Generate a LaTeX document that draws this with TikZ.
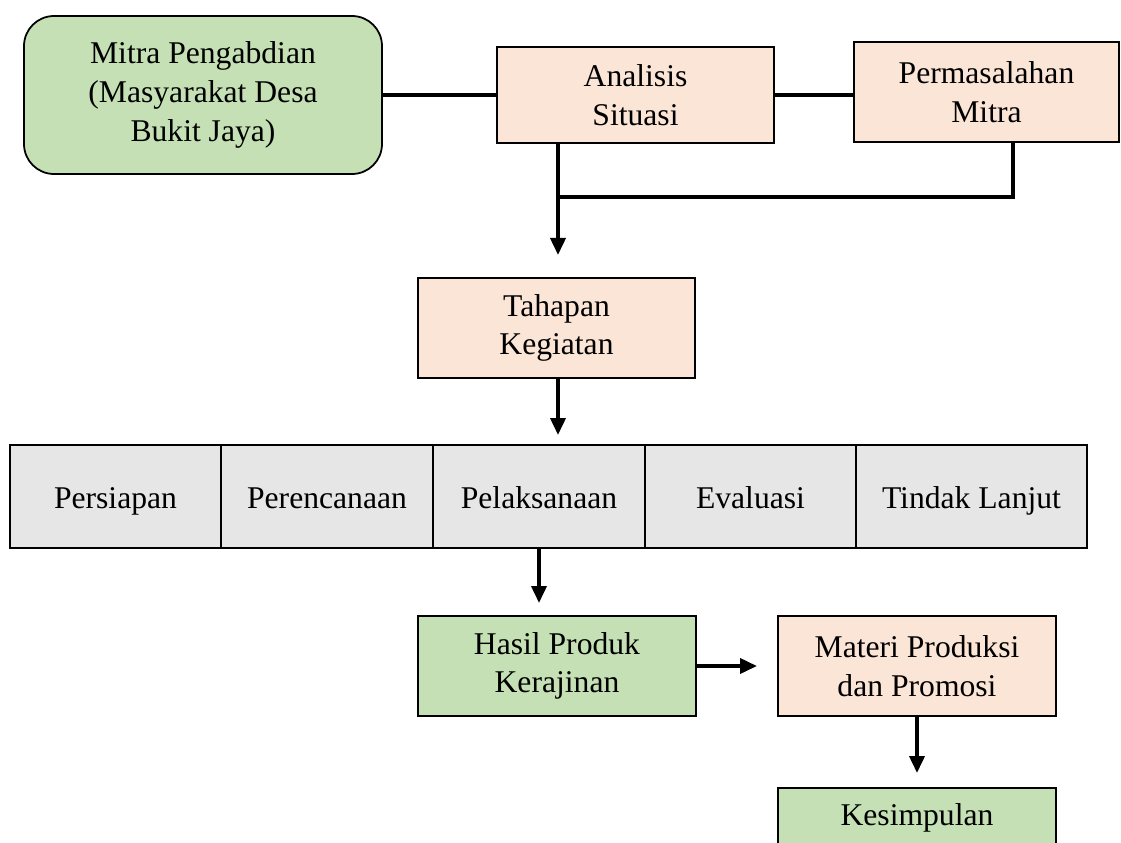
\documentclass[tikz,border=0pt]{standalone}
\usepackage{fontspec}
\setmainfont{Liberation Serif}
\usepackage{tikz}
\usetikzlibrary{arrows.meta, positioning}

\definecolor{boxgreen}{HTML}{C5E0B4}
\definecolor{boxpeach}{HTML}{FBE5D6}
\definecolor{boxgray}{HTML}{E7E6E6}

\tikzset{
  box/.style={draw, line width=1pt, outer sep=0pt, align=center, font=\fontsize{18}{22}\selectfont},
  greenbox/.style={box, fill=boxgreen, minimum width=5.56cm, minimum height=2cm},
  peachbox/.style={box, fill=boxpeach, minimum width=5.54cm, minimum height=2cm},
  graybox/.style={box, fill=boxgray, minimum height=2.06cm, text height=16pt, text depth=2.4pt},
  conn/.style={draw, line width=2.1pt},
  arr/.style={conn, -{Triangle[length=0.34cm, width=0.30cm]}},
}

\begin{document}
\begin{tikzpicture}[]

\path [use as bounding box, clip] (0,0) rectangle (22.42,-16.86);

\node [greenbox, rounded corners=0.6cm, minimum width=7.16cm, minimum height=3.16cm] (mitra)    at (4.06,-1.90)  {Mitra Pengabdian\\(Masyarakat Desa\\Bukit Jaya)};
\node [peachbox, minimum height=1.92cm                                            ] (analisis) at (12.71,-1.90) {Analisis\\Situasi};
\node [peachbox, minimum width=5.30cm                                             ] (masalah)  at (19.73,-1.84) {Permasalahan\\Mitra};
\node [peachbox                                                                   ] (tahapan)  at (11.13,-6.56) {Tahapan\\Kegiatan};

\node [graybox, minimum width=4.22cm, anchor=west ] (persiapan)   at (0.20,-9.93) {Persiapan};
\node [graybox, minimum width=4.24cm, right=0cm of persiapan  ] (perencanaan) {Perencanaan};
\node [graybox, minimum width=4.24cm, right=0cm of perencanaan] (pelaksanaan) {Pelaksanaan};
\node [graybox, minimum width=4.22cm, right=0cm of pelaksanaan] (evaluasi)    {Evaluasi};
\node [graybox, minimum width=4.62cm, right=0cm of evaluasi   ] (lanjut)      {Tindak Lanjut};

\node [greenbox                                          ] (hasil)      at (11.14,-13.32) {Hasil Produk\\Kerajinan};
\node [peachbox, minimum width=5.56cm, right=1.64cm of hasil] (materi)     {Materi Produksi\\dan Promosi};
\node [greenbox, minimum height=1.2cm, below=1.44cm of materi] (kesimpulan) {Kesimpulan};

% titik belok garis dari analisis dan permasalahan
\coordinate (gabung)  at (11.16,-3.94);
\coordinate (belok)   at (20.26,-3.94);

\path [conn] (mitra.east)    -- (analisis.west);
\path [conn] (analisis.east) -- (analisis.east -| masalah.west);
\path [conn] (analisis.south -| gabung) -- (gabung) -- (belok) -- (masalah.south -| belok);

\path [arr, shorten >=0.46cm] (gabung)            -- (gabung |- tahapan.north);
\path [arr, shorten >=0.20cm] (tahapan.south -| gabung) -- (gabung |- pelaksanaan.north);
\path [arr, shorten >=0.26cm] (pelaksanaan.south) -- (pelaksanaan.south |- hasil.north);
\path [arr, shorten >=0.42cm] (hasil.east)        -- (materi.west);
\path [arr, shorten >=0.30cm] (materi.south)      -- (materi.south |- kesimpulan.north);

\end{tikzpicture}
\end{document}
